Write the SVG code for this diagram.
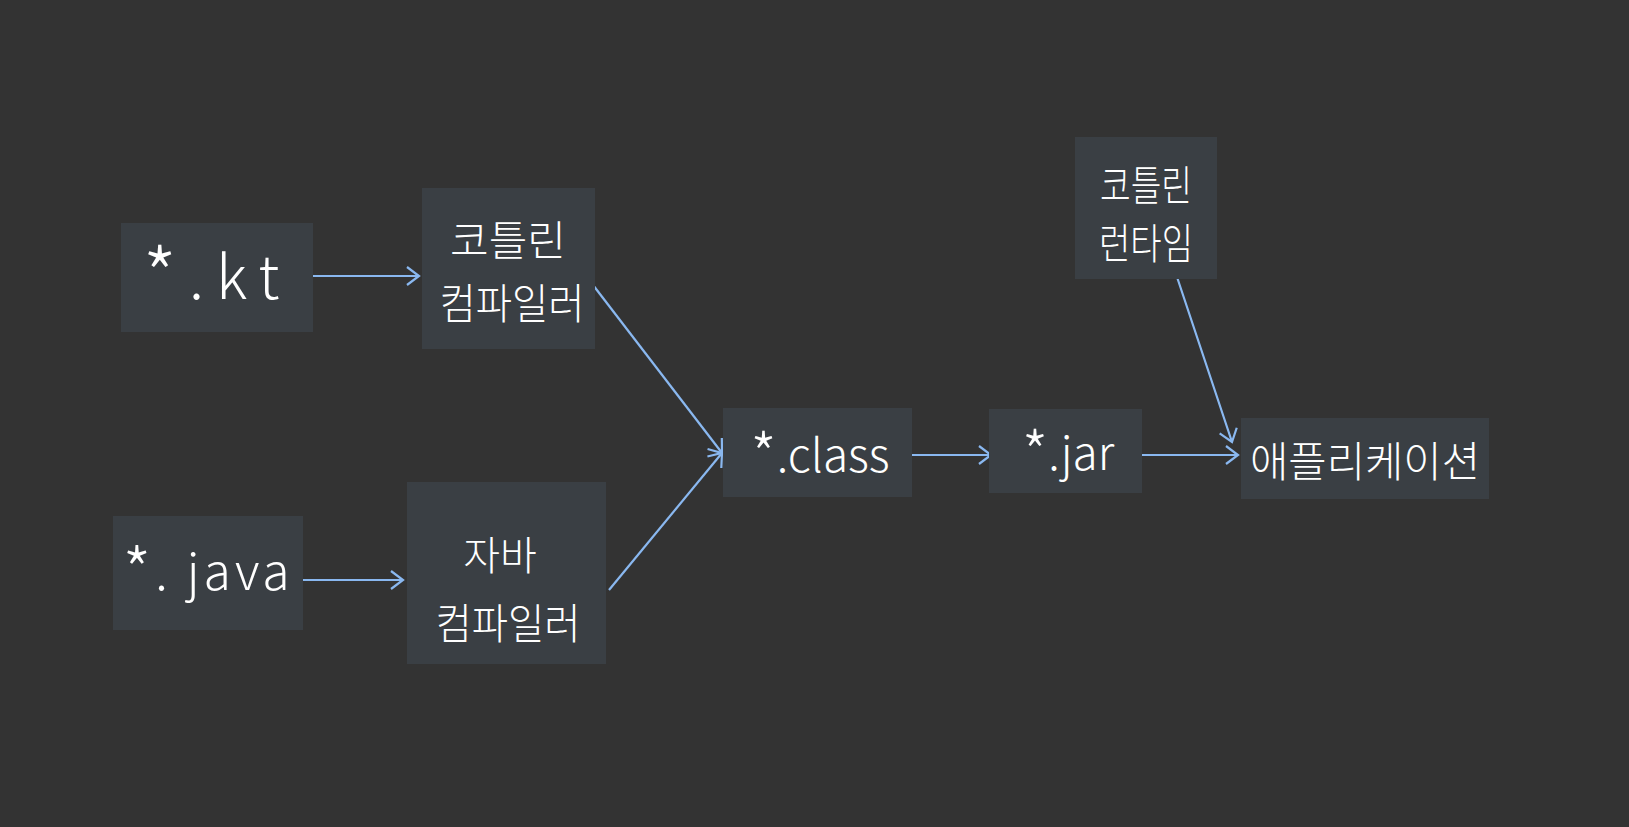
<svg xmlns="http://www.w3.org/2000/svg" width="1629" height="827" viewBox="0 0 1629 827">
<style>
.box{fill:#3a3f44}
.t{fill:#ffffff;font-family:"Noto Sans CJK KR","Noto Sans",sans-serif;font-weight:300;text-anchor:middle;dominant-baseline:central}
.c{stroke:#8ab8f0;stroke-width:2.2;fill:none;marker-end:url(#ah)}
.ast{font-size:1.3em}
</style>
<defs>
<marker id="ah" markerUnits="userSpaceOnUse" markerWidth="30" markerHeight="30" refX="0" refY="0" viewBox="-15 -15 30 30" orient="auto" overflow="visible">
<path d="M-12,-9 L0,0 L-12,9" fill="none" stroke="#8ab8f0" stroke-width="2.2"/>
</marker>
</defs>
<rect width="1629" height="827" fill="#333333"/>
<g id="connectors">
<line class="c" x1="311" y1="276" x2="419" y2="276"/>
<line class="c" x1="302" y1="580" x2="403" y2="580"/>
<line class="c" x1="593" y1="285" x2="722" y2="453"/>
<line class="c" x1="609" y1="590" x2="722" y2="453"/>
<line class="c" x1="912" y1="455" x2="991" y2="455"/>
<line class="c" x1="1176" y1="274" x2="1232" y2="442"/>
<line class="c" x1="1137" y1="455" x2="1238" y2="455"/>
</g>
<g id="kt">
<rect class="box" x="121" y="223" width="192" height="109"/>
<text class="t" x="217" y="272" font-size="60" letter-spacing="12"><tspan class="ast">*</tspan>.kt</text>
</g>
<g id="kotlin-compiler">
<rect class="box" x="422" y="188" width="173" height="161"/>
<text class="t" x="508" y="237" font-size="42">코틀린</text>
<text class="t" x="512" y="300" font-size="42" textLength="145" lengthAdjust="spacingAndGlyphs">컴파일러</text>
</g>
<g id="java">
<rect class="box" x="113" y="516" width="190" height="114"/>
<text class="t" x="208" y="568" font-size="50" letter-spacing="4"><tspan class="ast">*</tspan>. java</text>
</g>
<g id="java-compiler">
<rect class="box" x="407" y="482" width="199" height="182"/>
<text class="t" x="500" y="553" font-size="40">자바</text>
<text class="t" x="508" y="620" font-size="42" textLength="145" lengthAdjust="spacingAndGlyphs">컴파일러</text>
</g>
<g id="class">
<rect class="box" x="723" y="408" width="189" height="89"/>
<text class="t" x="820" y="452" font-size="46"><tspan class="ast">*</tspan>.class</text>
</g>
<g id="jar">
<rect class="box" x="989" y="409" width="153" height="84"/>
<text class="t" x="1068" y="450" font-size="46"><tspan class="ast">*</tspan>.jar</text>
</g>
<g id="kotlin-runtime">
<rect class="box" x="1075" y="137" width="142" height="142"/>
<text class="t" x="1146" y="182" font-size="42" textLength="92" lengthAdjust="spacingAndGlyphs">코틀린</text>
<text class="t" x="1146" y="240" font-size="42" textLength="94" lengthAdjust="spacingAndGlyphs">런타임</text>
</g>
<g id="application">
<rect class="box" x="1241" y="418" width="248" height="81"/>
<text class="t" x="1365" y="458" font-size="42" textLength="230" lengthAdjust="spacingAndGlyphs">애플리케이션</text>
</g>
</svg>
